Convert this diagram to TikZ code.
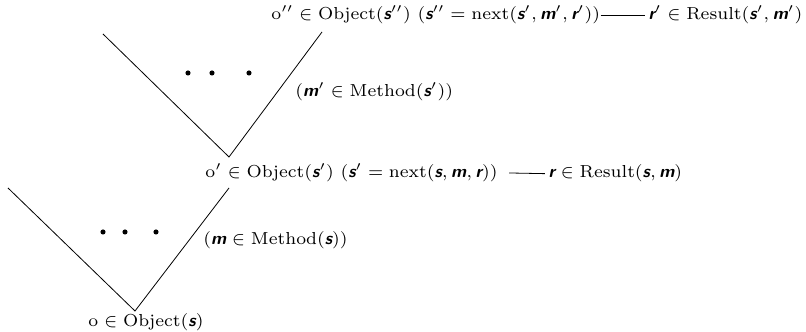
\documentclass[tikz,border=0pt]{standalone}
\usepackage{amsmath}
\usepackage{fontspec}
\usepackage{tikz}
\usetikzlibrary{positioning}
\newcommand{\bv}[1]{\text{\sffamily\bfseries\itshape #1}}

\begin{document}
\begin{tikzpicture}[
    x=0.625pt, y=0.625pt,
    lbl/.style={anchor=base west, inner sep=0pt, font=\fontsize{7}{8}\selectfont,
                scale=1.55, transform shape},
    arm/.style={line width=0.5pt},
    link/.style={line width=0.5pt}
  ]
    \useasboundingbox (0,0) rectangle (806,332);
    % lower level
    \node[lbl] (obj0) at (88,5) {$\mathrm{o} \in \mathrm{Object}(\bv{s})$};
    \coordinate (a0) at (135,21);
    \coordinate (l0) at (8,144);
    \node[lbl] (obj1) at (205,154) {$\mathrm{o}' \in \mathrm{Object}(\bv{s}')$\ $(\bv{s}' = \mathrm{next}(\bv{s}, \bv{m}, \bv{r}))$};
    \coordinate (r0) at (229,144);
    \draw[arm] (l0) -- (a0) -- (r0);
    \node[lbl] (meth0) at (203,87) {$(\bv{m} \in \mathrm{Method}(\bv{s}))$};
    \foreach \x in {103,125,156} \fill (\x,100) circle (1.6pt);
    \node[lbl] (res0) at (548,154) {$\bv{r} \in \mathrm{Result}(\bv{s}, \bv{m})$};
    \draw[link] ([xshift=7pt]obj1.east) -- ([xshift=-2pt]res0.west);
    % upper level
    \coordinate (a1) at (229,175);
    \coordinate (l1) at (103,298);
    \node[lbl] (obj2) at (271,312) {$\mathrm{o}'' \in \mathrm{Object}(\bv{s}'')$\ $(\bv{s}'' = \mathrm{next}(\bv{s}', \bv{m}', \bv{r}'))$};
    \coordinate (r1) at (322,300);
    \draw[arm] (l1) -- (a1) -- (r1);
    \node[lbl] (meth1) at (295,235) {$(\bv{m}' \in \mathrm{Method}(\bv{s}'))$};
    \foreach \x in {188,212,249} \fill (\x,259) circle (1.6pt);
    \node[lbl] (res1) at (648,312) {$\bv{r}' \in \mathrm{Result}(\bv{s}', \bv{m}')$};
    \draw[link] (obj2.east) -- ([xshift=-2pt]res1.west);
\end{tikzpicture}
\end{document}
